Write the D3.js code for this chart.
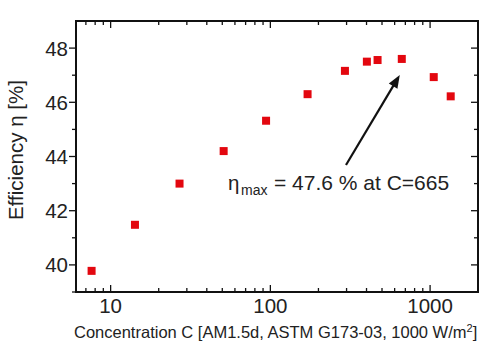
<!DOCTYPE html>
<html><head><meta charset="utf-8">
<script src="https://cdn.jsdelivr.net/npm/d3@7"></script>
<style>body{margin:0;background:#fff}svg{display:block;font-family:Arial,"Liberation Sans",sans-serif}</style>
</head><body><svg id="c" width="500" height="352"></svg>
<script>
const concentration = [7.6, 14.2, 27, 51, 94, 171, 293, 402, 469, 665, 1054, 1346];
const efficiency = [39.78, 41.48, 43.0, 44.2, 45.32, 46.3, 47.16, 47.5, 47.56, 47.6, 46.93, 46.22];
const xTicks = [10, 100, 1000];
const yTicks = [40, 42, 44, 46, 48];
const annotation = {c: 665, eta: 47.6, text: "= 47.6 % at C=665"};

const svg = d3.select("#c");
const m = {l: 76, t: 21, r: 478, b: 292};
const x = d3.scaleLog().domain([6.07, 1995]).range([m.l, m.r]);
const y = d3.scaleLinear().domain([39, 49]).range([m.b, m.t]);

const minorX = [];
for (let d = 1; d <= 1000; d *= 10) for (let k = 2; k <= 9; k++) { const v = d * k; if (v >= 6.07 && v <= 1995 && !xTicks.includes(v)) minorX.push(v); }
const minorY = [39, 41, 43, 45, 47];

const g = svg.append("g").attr("stroke", "#111").attr("stroke-width", 1.3);
svg.append("rect").attr("x", m.l).attr("y", m.t).attr("width", m.r - m.l).attr("height", m.b - m.t)
  .attr("fill", "none").attr("stroke", "#111").attr("stroke-width", 2);
xTicks.forEach(v => {
  g.append("line").attr("x1", x(v)).attr("x2", x(v)).attr("y1", m.b).attr("y2", m.b - 7);
  g.append("line").attr("x1", x(v)).attr("x2", x(v)).attr("y1", m.t).attr("y2", m.t + 7);
});
minorX.forEach(v => {
  g.append("line").attr("x1", x(v)).attr("x2", x(v)).attr("y1", m.b).attr("y2", m.b - 4);
  g.append("line").attr("x1", x(v)).attr("x2", x(v)).attr("y1", m.t).attr("y2", m.t + 4);
});
yTicks.forEach(v => {
  g.append("line").attr("x1", m.l).attr("x2", m.l - 7).attr("y1", y(v)).attr("y2", y(v));
  g.append("line").attr("x1", m.r).attr("x2", m.r - 7).attr("y1", y(v)).attr("y2", y(v));
});
minorY.forEach(v => {
  g.append("line").attr("x1", m.l).attr("x2", m.l - 4).attr("y1", y(v)).attr("y2", y(v));
  g.append("line").attr("x1", m.r).attr("x2", m.r - 4).attr("y1", y(v)).attr("y2", y(v));
});
svg.selectAll(".xl").data(xTicks).enter().append("text")
  .attr("x", d => x(d)).attr("y", 313).attr("text-anchor", "middle")
  .style("font-size", "20.5px").attr("fill", "#222").text(d => d);
svg.selectAll(".yl").data(yTicks).enter().append("text")
  .attr("x", 68).attr("y", d => y(d) + 7.5).attr("text-anchor", "end")
  .style("font-size", "20.5px").attr("fill", "#222").text(d => d);
const xt = svg.append("text").attr("x", 74).attr("y", 338).style("font-size", "16.5px").attr("fill", "#222");
xt.append("tspan").text("Concentration C [AM1.5d, ASTM G173-03, 1000 W/m");
xt.append("tspan").attr("dy", -6).style("font-size", "11px").text("2");
xt.append("tspan").attr("dy", 6).text("]");
svg.append("text").attr("transform", "translate(23,150) rotate(-90)").attr("text-anchor", "middle")
  .style("font-size", "20.5px").attr("fill", "#222").text("Efficiency η [%]");
svg.selectAll(".pt").data(concentration).enter().append("rect")
  .attr("x", (d) => x(d) - 4).attr("y", (d, i) => y(efficiency[i]) - 4)
  .attr("width", 8).attr("height", 8).attr("fill", "#e3070f");
const ax2 = x(annotation.c) - 2, ay2 = y(annotation.eta) + 16;
const ax1 = 346, ay1 = 165;
const ang = Math.atan2(ay2 - ay1, ax2 - ax1);
const hl = 13, hw = 5;
svg.append("line").attr("x1", ax1).attr("y1", ay1)
  .attr("x2", ax2 - Math.cos(ang) * hl * 0.8).attr("y2", ay2 - Math.sin(ang) * hl * 0.8)
  .attr("stroke", "#111").attr("stroke-width", 2.2);
const bx = ax2 - Math.cos(ang) * hl, by = ay2 - Math.sin(ang) * hl;
svg.append("path").attr("d", `M${ax2},${ay2} L${bx - Math.sin(ang) * hw},${by + Math.cos(ang) * hw} L${bx + Math.sin(ang) * hw},${by - Math.cos(ang) * hw} Z`)
  .attr("fill", "#111");
svg.append("text").attr("x", 228).attr("y", 189.5).style("font-size", "20.5px").attr("fill", "#222").text("η");
svg.append("text").attr("x", 241).attr("y", 195).style("font-size", "14px").attr("fill", "#222").text("max");
svg.append("text").attr("x", 274).attr("y", 189.5).style("font-size", "21px").attr("fill", "#222").text(annotation.text);
</script></body></html>
